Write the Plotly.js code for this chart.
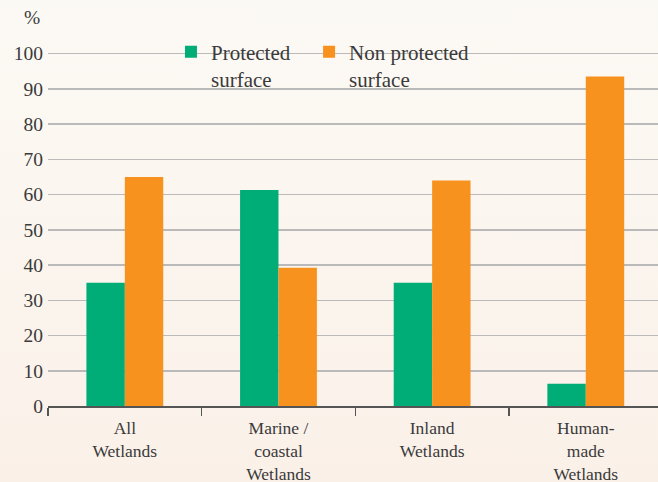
<!DOCTYPE html>
<html>
<head>
<meta charset="utf-8">
<script src="https://cdn.plot.ly/plotly-3.0.1.min.js"></script>
<style>html,body{margin:0;padding:0;background:#fbf5ef;}#chart{width:658px;height:482px;}</style>
</head>
<body>
<div id="chart"></div>
<script>
const categories = ["All<br>Wetlands", "Marine /<br>coastal<br>Wetlands", "Inland<br>Wetlands", "Human-<br>made<br>Wetlands"];
const protectedValues = [35, 61.3, 35, 6.3];
const nonProtectedValues = [65, 39.2, 64, 93.5];
const yTicks = [0, 10, 20, 30, 40, 50, 60, 70, 80, 90, 100];

const fam = "Liberation Serif, DejaVu Serif, serif";
const font = {family: fam, size: 19.5, color: "#3a3a3a"};
const legendFont = {family: fam, size: 21, color: "#3a3a3a"};
const tickFont = {family: fam, size: 17.5, color: "#3a3a3a"};
const gradSvg = '<svg xmlns="http://www.w3.org/2000/svg" width="10" height="100" preserveAspectRatio="none"><defs><linearGradient id="g" x1="0" y1="0" x2="0" y2="1"><stop offset="0" stop-color="#fcfaf5"/><stop offset="1" stop-color="#faf0e8"/></linearGradient></defs><rect width="10" height="100" fill="url(#g)"/></svg>';

const traces = [
  {type: "bar", name: "Protected<br>surface", x: categories, y: protectedValues, marker: {color: "#00ad76"}, hoverinfo: "skip", legend: "legend"},
  {type: "bar", name: "Non protected<br>surface", x: categories, y: nonProtectedValues, marker: {color: "#f7921e"}, hoverinfo: "skip", legend: "legend2"}
];

const legendBase = {
  orientation: "h", y: 1.012, xanchor: "left", yanchor: "top",
  bgcolor: "rgba(0,0,0,0)", valign: "top", font: legendFont, itemwidth: 30, borderwidth: 0
};

const layout = {
  width: 658, height: 482,
  margin: {l: 48, r: 0, t: 36, b: 76, pad: 0},
  paper_bgcolor: "#fbf5ef",
  plot_bgcolor: "rgba(0,0,0,0)",
  font: font,
  barmode: "group",
  bargap: 0.5,
  bargroupgap: 0,
  showlegend: true,
  legend: Object.assign({}, legendBase, {x: 0.2016}),
  legend2: Object.assign({}, legendBase, {x: 0.428}),
  xaxis: {
    range: [-0.5, 3.47], showgrid: false, showline: true, linecolor: "#555", linewidth: 2,
    ticks: "outside", tickson: "boundaries", ticklen: 8, tickwidth: 1.5, tickcolor: "#555",
    tickfont: tickFont, ticklabelstandoff: 5, fixedrange: true
  },
  yaxis: {
    range: [0, 105], tickvals: yTicks, ticktext: yTicks.map(String), showgrid: true,
    gridcolor: "#bababa", gridwidth: 1.5, zeroline: false, showline: false,
    ticks: "", tickfont: font, ticklabelstandoff: 4, fixedrange: true
  },
  shapes: [
    {type: "rect", xref: "paper", yref: "paper", x0: 0.2115, x1: 0.705, y0: 0.872, y1: 0.99,
     fillcolor: "#fcf8f3", line: {width: 0}, layer: "between"}
  ],
  annotations: [
    {text: "%", xref: "paper", yref: "paper", x: -0.01, y: 1.049, xanchor: "right", yanchor: "middle", showarrow: false, font: font}
  ],
  images: [
    {source: "data:image/svg+xml;charset=utf-8," + encodeURIComponent(gradSvg), xref: "paper", yref: "paper",
     x: -0.1, y: 1.15, sizex: 1.2, sizey: 1.4, sizing: "stretch", layer: "below", xanchor: "left", yanchor: "top"}
  ]
};

Plotly.newPlot("chart", traces, layout, {displayModeBar: false, staticPlot: true});
</script>
</body>
</html>
